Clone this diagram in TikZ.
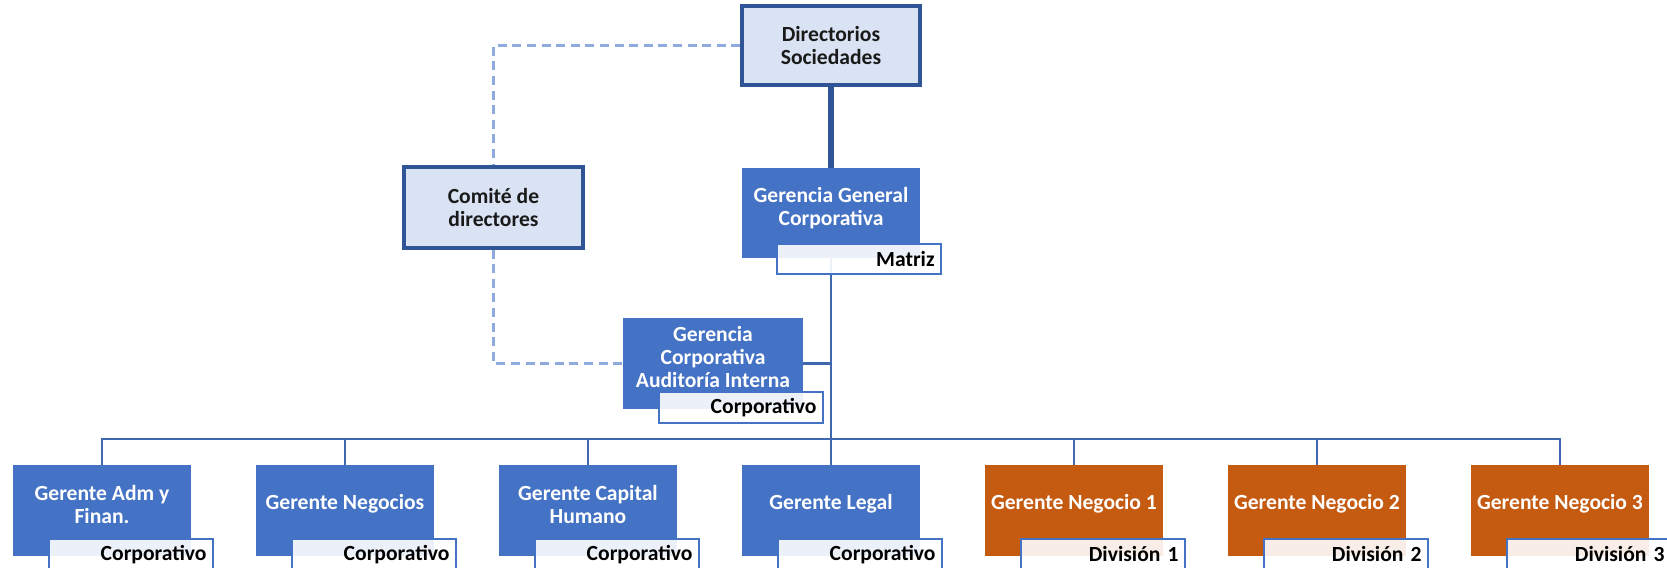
\documentclass[tikz,border=0pt]{standalone}
\usepackage{fontspec}
\setmainfont{Carlito}
\usetikzlibrary{backgrounds}
\definecolor{gblue}{HTML}{4472C4}
\definecolor{dblue}{HTML}{2F5597}
\definecolor{lblue}{HTML}{DAE3F3}
\definecolor{dashc}{HTML}{8FAADC}
\definecolor{orng}{HTML}{C55A11}
\definecolor{linec}{HTML}{4068B0}
\definecolor{darktext}{HTML}{1A1A1A}
\tikzset{
  boxfont/.style={font=\fontsize{10.8}{11.5}\selectfont\bfseries},
  topbox/.style={draw=dblue, line width=1.6pt, fill=lblue, minimum width=89pt, minimum height=39.5pt, inner sep=0pt, align=center, text=darktext, boxfont},
  bluebox/.style={fill=gblue, minimum width=89pt, minimum height=45.5pt, inner sep=0pt},
  orangebox/.style={fill=orng, minimum width=89pt, minimum height=45.5pt, inner sep=0pt},
  boxtext/.style={text=white, align=center, boxfont, inner sep=0pt},
  tagbox/.style={draw=gblue, line width=1pt, minimum height=15pt, text width=76pt, inner sep=3pt, align=right, anchor=north west, text=black, boxfont, fill=white, fill opacity=0.9, text opacity=1, draw opacity=1},
  thickline/.style={draw=dblue, line width=3pt},
  thinline/.style={draw=linec, line width=1.1pt},
  dashline/.style={draw=dashc, line width=1.7pt, dash pattern=on 4.5pt off 2.8pt}
}
\begin{document}
\begin{tikzpicture}[x=0.5pt, y=-0.5pt]
\useasboundingbox (0,0) rectangle (1667,568);
% top level
\node[topbox] (dir) at (831,45.5) {Directorios\\Sociedades};
\node[topbox, minimum height=40.5pt, minimum width=89.5pt] (com) at (493.5,207.5) {Comité de\\directores};
% Gerencia General
\node[bluebox, minimum height=45pt] (gg) at (831,213) {};
\node[boxtext] (ggt) at ([yshift=2.3pt]gg.center) {Gerencia General\\Corporativa};
\node[tagbox] (ggtag) at ([xshift=17pt,yshift=7.5pt]gg.south west) {Matriz};
% Auditoria
\node[bluebox, minimum width=90pt] (aud) at (713,363.5) {};
\node[boxtext] (audt) at ([yshift=3.2pt]aud.center) {Gerencia\\Corporativa\\Auditoría Interna};
\node[tagbox] (audtag) at ([xshift=17.5pt,yshift=9pt]aud.south west) {Corporativo};
% bottom row
\foreach \n/\x/\txt/\st/\tagtxt in {
  b1/102/{Gerente Adm y\\Finan.}/bluebox/Corporativo,
  b2/345/{Gerente Negocios}/bluebox/Corporativo,
  b3/588/{Gerente Capital\\Humano}/bluebox/Corporativo,
  b4/831/{Gerente Legal}/bluebox/Corporativo,
  b5/1074/{Gerente Negocio 1}/orangebox/{División 1},
  b6/1317/{Gerente Negocio 2}/orangebox/{División 2},
  b7/1560/{Gerente Negocio 3}/orangebox/{División 3}}{
  \node[\st] (\n) at (\x,510.5) {};
  \node[boxtext] (\n t) at ([yshift=3.2pt]\n.center) {\txt};
  \node[tagbox] (\n tag) at ([xshift=17.5pt,yshift=9pt]\n.south west) {\tagtxt};
}
\coordinate (bus) at (831,439);
\begin{scope}[on background layer]
\draw[dashline] (dir.west) -| (com.north);
\draw[dashline] (com.south) |- (aud.west);
\draw[thickline] (dir.south) -- (gg.north);
\draw[thinline] (gg.south) -- (bus);
\draw[thinline] (aud.east) -- (aud.east -| gg.south);
\draw[thinline] (b1.north) -- (b1.north |- bus) -- (b7.north |- bus) -- (b7.north);
\foreach \n in {b2,b3,b4,b5,b6}{
  \draw[thinline] (\n.north) -- (\n.north |- bus);
}
\end{scope}
\end{tikzpicture}
\end{document}
